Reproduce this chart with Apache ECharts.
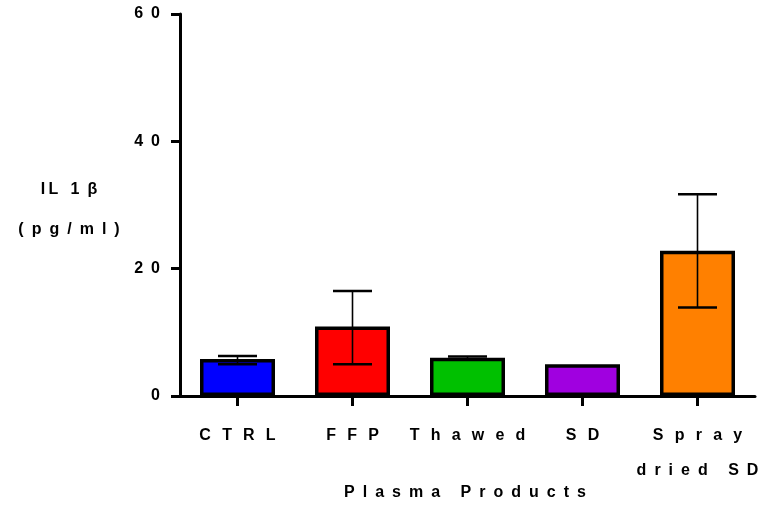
<!DOCTYPE html>
<html>
<head>
<meta charset="utf-8">
<script src="https://cdn.jsdelivr.net/npm/echarts@6/dist/echarts.min.js"></script>
<style>html,body{margin:0;padding:0;background:#fff}#c{width:767px;height:505px}</style>
</head>
<body>
<div id="c"></div>
<script>
const categories = ['CTRL', 'FFP', 'Thawed', 'SD', 'Spray\ndried SD'];
const means = [5.8, 10.9, 6.0, 5.0, 22.8];
const errLow = [5.0, 5.0, 5.7, 5.0, 13.9];
const errHigh = [6.3, 16.5, 6.2, 5.0, 31.7];
const barColors = ['#0000FF', '#FF0000', '#00C000', '#A000E0', '#FF8000'];
const yTicks = { min: 0, max: 60, interval: 20 };
const xTitle = 'Plasma Products';

const WIDE = '\u2002\u2009';
const EN = '\u2002';
const spacedWith = (s, gap) => s.split('').join(gap);
const xLabel = v => v.split('\n').map((l, k) => spacedWith(l, k === 0 ? WIDE : EN)).join('\n');
const FONT = '"Liberation Sans", Arial, sans-serif';

const chart = echarts.init(document.getElementById('c'));
chart.setOption({
  animation: false,
  grid: { left: 180, right: 12, top: 14, bottom: 109, containLabel: false, outerBoundsMode: 'none' },
  xAxis: {
    type: 'category',
    data: categories,
    axisLine: { lineStyle: { color: '#000', width: 3 } },
    axisTick: { show: true, alignWithLabel: true, interval: 0, length: 10, lineStyle: { color: '#000', width: 3 } },
    axisLabel: {
      interval: 0, hideOverlap: false,
      formatter: xLabel,
      fontFamily: FONT, fontWeight: 'bold', fontSize: 16, color: '#000',
      margin: 22, lineHeight: 35
    }
  },
  yAxis: {
    type: 'value',
    min: yTicks.min, max: yTicks.max, interval: yTicks.interval,
    splitLine: { show: false },
    axisLine: { show: true, lineStyle: { color: '#000', width: 3 } },
    axisTick: { show: true, length: 9, lineStyle: { color: '#000', width: 3 } },
    axisLabel: {
      formatter: v => spacedWith(String(v), EN),
      fontFamily: FONT, fontWeight: 'bold', fontSize: 16, color: '#000', margin: 20
    }
  },
  graphic: [{
    type: 'text', x: 69, y: 170,
    style: {
      text: 'I\u2009L' + EN + ' 1' + EN + 'β' + '\n' + spacedWith('(pg/ml)', EN),
      font: 'bold 16px ' + FONT, fill: '#000', align: 'center', verticalAlign: 'top', lineHeight: 40
    }
  }, {
    type: 'text', x: 465, y: 493,
    style: {
      text: spacedWith(xTitle, EN),
      font: 'bold 16px ' + FONT, fill: '#000', align: 'center', verticalAlign: 'middle'
    }
  }],
  series: [{
    type: 'bar',
    data: means.map((v, i) => ({ value: v, itemStyle: { color: barColors[i] } })),
    barWidth: 75,
    itemStyle: { borderColor: '#000', borderWidth: 3.5 },
    z: 2
  }, {
    type: 'custom',
    z: 3,
    data: means.map((m, i) => [i, errLow[i], errHigh[i]]),
    renderItem: (params, api) => {
      const i = api.value(0);
      const lo = api.coord([i, api.value(1)]);
      const hi = api.coord([i, api.value(2)]);
      const half = 19.5;
      if (Math.abs(lo[1] - hi[1]) < 0.5) return { type: 'group', children: [] };
      return {
        type: 'group',
        children: [
          { type: 'line', shape: { x1: lo[0], y1: lo[1], x2: hi[0], y2: hi[1] }, style: { stroke: '#000', lineWidth: 1.6 } },
          { type: 'line', shape: { x1: hi[0] - half, y1: hi[1], x2: hi[0] + half, y2: hi[1] }, style: { stroke: '#000', lineWidth: 2.5 } },
          { type: 'line', shape: { x1: lo[0] - half, y1: lo[1], x2: lo[0] + half, y2: lo[1] }, style: { stroke: '#000', lineWidth: 2.5 } }
        ]
      };
    }
  }]
});
</script>
</body>
</html>
